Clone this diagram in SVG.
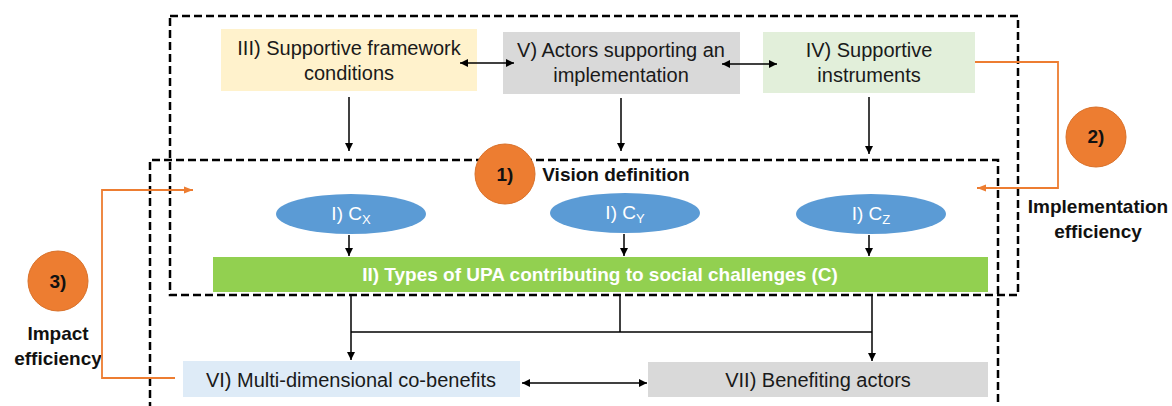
<svg xmlns="http://www.w3.org/2000/svg" width="1172" height="406" viewBox="0 0 1172 406">
<defs>
<marker id="ah" viewBox="0 0 10 10" refX="10" refY="5" markerWidth="8" markerHeight="8" markerUnits="userSpaceOnUse" orient="auto-start-reverse"><path d="M0,0 L10,5 L0,10 z" fill="#000"/></marker>
<marker id="aho" viewBox="0 0 10 10" refX="10" refY="5" markerWidth="9" markerHeight="9" markerUnits="userSpaceOnUse" orient="auto"><path d="M0,1 L10,5 L0,9 z" fill="#ED7D31"/></marker>
<style>
.t{font-family:"Liberation Sans",Arial,sans-serif;font-size:20px;fill:#1a1a1a;text-anchor:middle}
.b{font-family:"Liberation Sans",Arial,sans-serif;font-size:19px;font-weight:bold;fill:#111;text-anchor:middle}
.w{font-family:"Liberation Sans",Arial,sans-serif;font-size:19px;fill:#fff;text-anchor:middle}
.wb{font-family:"Liberation Sans",Arial,sans-serif;font-size:19px;font-weight:bold;fill:#fff;text-anchor:middle}
.dash{fill:none;stroke:#000;stroke-width:2.5;stroke-dasharray:8 4}
.ln{fill:none;stroke:#000;stroke-width:1.5}
.or{fill:none;stroke:#ED7D31;stroke-width:1.8}
.circ{fill:#ED7D31;stroke:#D9712A;stroke-width:1}
.ell{fill:#5B9BD5}
</style>
</defs>
<rect width="1172" height="406" fill="#fff"/>

<g id="frames">
<rect class="dash" x="170" y="16" width="848" height="279"/>
<path class="dash" d="M150,410 L150,160 L998,160 L998,410"/>
</g>

<g id="node-III"><rect x="221" y="29" width="256" height="62" fill="#FFF2CC"/>
<text class="t" x="349" y="55">III) Supportive framework</text><text class="t" x="349" y="80">conditions</text></g>
<g id="node-V"><rect x="503" y="32" width="237" height="62" fill="#D9D9D9"/>
<text class="t" x="621" y="57">V) Actors supporting an</text><text class="t" x="621" y="82">implementation</text></g>
<g id="node-IV"><rect x="763" y="32" width="212" height="61" fill="#E2EFDA"/>
<text class="t" x="869" y="57">IV) Supportive</text><text class="t" x="869" y="82">instruments</text></g>

<g id="node-1"><circle class="circ" cx="505" cy="174" r="30"/><text class="b" x="505" y="181">1)</text></g>
<g id="label-vision"><text class="b" x="616" y="181">Vision definition</text></g>
<g id="node-2"><circle class="circ" cx="1096" cy="137" r="30"/><text class="b" x="1096" y="143">2)</text></g>
<g id="label-impl"><text class="b" x="1098" y="213">Implementation</text><text class="b" x="1098" y="238">efficiency</text></g>
<g id="node-3"><circle class="circ" cx="58" cy="281" r="30"/><text class="b" x="58" y="288">3)</text></g>
<g id="label-impact"><text class="b" x="58" y="340">Impact</text><text class="b" x="58" y="365">efficiency</text></g>

<g id="node-Cx"><ellipse class="ell" cx="351" cy="214" rx="75" ry="20"/><text class="w" x="351" y="220">I) C<tspan font-size="13" dy="4">X</tspan></text></g>
<g id="node-Cy"><ellipse class="ell" cx="625" cy="213" rx="75" ry="20"/><text class="w" x="625" y="219">I) C<tspan font-size="13" dy="4">Y</tspan></text></g>
<g id="node-Cz"><ellipse class="ell" cx="871" cy="214" rx="75" ry="20"/><text class="w" x="871" y="220">I) C<tspan font-size="13" dy="4">Z</tspan></text></g>

<g id="node-II"><rect x="213" y="257" width="775" height="35" fill="#92D050"/>
<text class="wb" x="600" y="281">II) Types of UPA contributing to social challenges (C)</text></g>

<g id="node-VI"><rect x="183" y="361" width="337" height="36" fill="#DEEBF7"/>
<text class="t" x="351" y="387">VI) Multi-dimensional co-benefits</text></g>
<g id="node-VII"><rect x="648" y="362" width="340" height="35" fill="#D9D9D9"/>
<text class="t" x="818" y="387">VII) Benefiting actors</text></g>

<g id="connectors">
<line class="ln" x1="460" y1="63" x2="514" y2="63" marker-start="url(#ah)" marker-end="url(#ah)"/>
<line class="ln" x1="722" y1="64" x2="777" y2="64" marker-start="url(#ah)" marker-end="url(#ah)"/>
<line class="ln" x1="349" y1="97" x2="349" y2="151" marker-end="url(#ah)"/>
<line class="ln" x1="621" y1="98" x2="621" y2="151" marker-end="url(#ah)"/>
<line class="ln" x1="869" y1="97" x2="869" y2="154" marker-end="url(#ah)"/>
<line class="ln" x1="349" y1="235" x2="349" y2="256" marker-end="url(#ah)"/>
<line class="ln" x1="624" y1="234" x2="624" y2="256" marker-end="url(#ah)"/>
<line class="ln" x1="869" y1="235" x2="869" y2="256" marker-end="url(#ah)"/>
<line class="ln" x1="351" y1="296" x2="351" y2="360" marker-end="url(#ah)"/>
<line class="ln" x1="620" y1="296" x2="620" y2="332"/>
<line class="ln" x1="351" y1="332" x2="872" y2="332"/>
<line class="ln" x1="872" y1="296" x2="872" y2="361" marker-end="url(#ah)"/>
<line class="ln" x1="522" y1="383" x2="647" y2="383" marker-start="url(#ah)" marker-end="url(#ah)"/>
<polyline class="or" points="975,62 1058,62 1058,188 977,188" marker-end="url(#aho)"/>
<polyline class="or" points="175,378 102,378 102,190 193,190" marker-end="url(#aho)"/>
</g>
</svg>
